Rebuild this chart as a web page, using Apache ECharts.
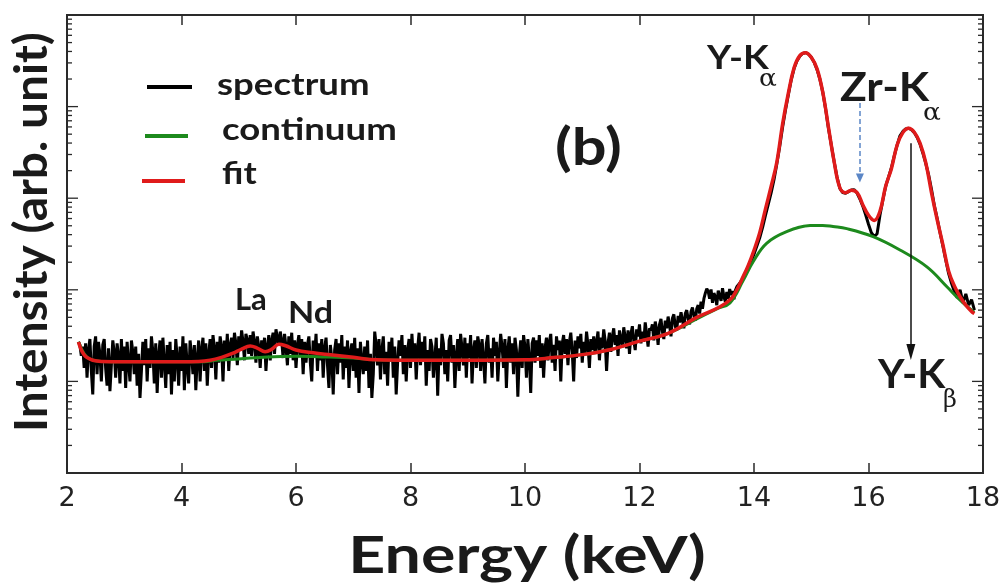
<!DOCTYPE html>
<html>
<head>
<meta charset="utf-8">
<script src="https://cdn.jsdelivr.net/npm/echarts@6/dist/echarts.min.js"></script>
<style>
  html, body { margin: 0; padding: 0; background: #fff; }
  #chart { width: 1005px; height: 586px; }
</style>
</head>
<body>
<div id="chart"></div>
<script>
// ---- X-ray fluorescence spectrum, panel (b) ----
const xTickValues = [2, 4, 6, 8, 10, 12, 14, 16, 18];

// measured spectrum, low-energy part: every 0.025 keV from 2.200 to 13.675 keV
const spectrumLowStart = 2.2;
const spectrumLowStep = 0.025;
const spectrumLow = [
  // 2.200 - 3.175
  27, 25, 19, 24, 14, 26, 11, 22, 29, 13, 7.2, 24, 31, 12, 27, 20, 10, 25, 29, 14,
  9, 23, 7.8, 15, 28, 21, 11, 26, 19, 9.5, 29, 13, 24, 8.5, 27, 16, 10, 28, 21, 12,
  // 3.200 - 4.175
  24, 9, 20, 6.6, 13, 27, 15, 29, 10, 23, 14, 31, 21, 9.5, 26, 7.5, 19, 28, 11, 30,
  16, 8.5, 25, 12, 27, 7.2, 22, 10, 29, 18, 9, 24, 13, 31, 8, 26, 15, 9.5, 28, 20,
  // 4.200 - 5.175
  12, 25, 8, 18, 28, 10, 22, 30, 13, 26, 9, 20, 29, 14, 32, 23, 10.5, 27, 16, 31,
  24, 10, 28, 17, 33, 13, 25, 30, 18, 34, 26, 15, 31, 22, 36, 27, 17, 33, 28, 20,
  // 5.200 - 6.175
  32, 19, 35, 27, 16, 31, 24, 14, 28, 19, 30, 13, 24, 32, 17, 28, 34, 20, 37, 30,
  25, 35, 28, 18, 33, 24, 15, 31, 20, 34, 17, 28, 14, 25, 32, 19, 29, 12, 27, 16,
  // 6.200 - 7.175
  25, 31, 16, 10, 28, 19, 33, 13, 26, 17, 29, 11, 23, 30, 15, 8.5, 25, 18, 7.2, 22,
  29, 12, 26, 16, 32, 10.5, 24, 14, 28, 8.5, 21, 26, 13, 30, 11, 23, 7.5, 27, 17, 12,
  // 7.200 - 8.175
  24, 13, 28, 8.5, 20, 6.6, 12, 35, 25, 15, 29, 10.5, 22, 31, 12, 21, 9, 27, 17, 30,
  11, 24, 7.2, 16, 28, 19, 32, 12, 25, 10, 22, 29, 14, 33, 17, 26, 10.5, 23, 34, 15,
  // 8.200 - 9.175
  27, 17, 31, 9, 22, 13, 29, 24, 11, 18, 30, 7, 23, 15, 33, 26, 12, 22, 10, 28,
  32, 16, 25, 8.5, 19, 29, 13, 33, 23, 15, 30, 11, 26, 18, 32, 9.5, 22, 28, 14, 31,
  // 9.200 - 10.175
  25, 13, 29, 18, 9.5, 26, 32, 16, 23, 11, 30, 19, 27, 10, 20, 33, 24, 14, 29, 8.5,
  22, 31, 16, 26, 12, 30, 22, 6.8, 19, 28, 14, 32, 24, 11, 29, 18, 7.5, 26, 30, 16,
  // 10.200 - 11.175
  28, 19, 32, 14, 26, 11, 23, 30, 17, 27, 33, 16, 25, 13, 31, 22, 28, 10, 26, 32,
  20, 29, 15, 27, 34, 21, 10, 28, 18, 31, 23, 33, 16, 27, 20, 35, 25, 14, 29, 22,
  // 11.200 - 12.175
  31, 20, 27, 35, 17, 30, 23, 37, 28, 13, 26, 34, 21, 31, 38, 25, 32, 19, 36, 29,
  24, 39, 30, 23, 36, 20, 33, 40, 28, 22, 37, 31, 42, 26, 35, 27, 44, 33, 24, 38,
  // 12.200 - 13.175
  36, 42, 28, 45, 37, 25, 42, 48, 35, 29, 46, 38, 51, 41, 31, 49, 54, 40, 36, 52,
  44, 57, 47, 38, 55, 60, 48, 42, 58, 64, 52, 46, 62, 68, 55, 74, 62, 80, 92, 103,
  // 13.200 - 13.675
  96, 80, 101, 72, 92, 84, 68, 98, 86, 76, 104, 84, 74, 95, 80, 102, 88, 97, 79, 99
];

// measured spectrum, peak region: every 0.05 keV from 13.70 to 17.85 keV
const spectrumHighStart = 13.7;
const spectrumHighStep = 0.05;
const spectrumHigh = [
  108, 118, 132, 152, 180, 205, 245, 300, 370, 480,
  650, 860, 1150, 1600, 2400, 3700, 6000, 9200, 13500, 19500,
  26000, 31500, 35500, 38000, 38800, 37500, 34500, 30500, 25500, 20000,
  14500, 9500, 5800, 3800, 2500, 1700, 1280, 1150, 1130, 1180,
  1230, 1240, 1140, 980, 820, 660, 520, 420, 380, 410,
  650, 950, 1350, 1700, 2150, 2900, 3800, 4800, 5350, 5700,
  5800, 5600, 5200, 4600, 3900, 3100, 2400, 1800, 1250, 830,
  600, 420, 300, 210, 150, 118, 96, 82, 100, 72, 90, 68, 78, 60
];

// fitted model (continuum + lines)
const fitEnergy = [2.20, 2.25, 2.30, 2.35, 2.45, 2.6, 3.0, 3.5, 4.0, 4.3, 4.5, 4.7, 4.9, 5.05, 5.2, 5.33, 5.46, 5.58, 5.7, 5.82,
  6.0, 6.3, 6.6, 7.0, 7.4, 8.0, 9.0, 10.0, 10.5, 11.0, 11.5, 12.0, 12.5, 13.0, 13.4, 13.6, 13.7, 13.8, 13.9, 14.0,
  14.1, 14.2, 14.3, 14.4, 14.5, 14.6, 14.7, 14.8, 14.9, 15.0, 15.1, 15.2, 15.3, 15.4, 15.5, 15.6, 15.7, 15.8, 15.9, 16.0,
  16.1, 16.2, 16.3, 16.4, 16.5, 16.6, 16.7, 16.8, 16.9, 17.0, 17.1, 17.2, 17.3, 17.4, 17.5, 17.6, 17.7, 17.8, 17.85];
const fitIntensity = [27, 22, 19.5, 18.2, 17, 16.5, 16.4, 16.4, 16.4, 16.5, 17, 18.3, 20.3, 22.5, 24.3, 23, 21.1, 22.5, 25.5, 24.5,
  22, 20.5, 19.5, 18.3, 17.2, 17, 17, 17.2, 18.2, 19.6, 22.3, 27.5, 33.5, 50, 65, 80, 100, 135, 185, 270,
  420, 760, 1350, 2500, 6500, 14000, 26500, 36000, 38800, 34500, 26000, 14500, 6000, 2500, 1300, 1150, 1220, 1150, 850, 650,
  570, 720, 1350, 2100, 3800, 5200, 5800, 5250, 4000, 2450, 1150, 580, 310, 160, 110, 84, 68, 58, 55];

// continuum (bremsstrahlung background)
const continuumEnergy = [2.20, 2.30, 2.40, 2.6, 3.0, 3.5, 4.0, 4.4, 4.6, 5.0, 5.5, 6.0, 6.5, 7.0, 7.5, 8.0, 9.0, 10.0, 10.5, 11.0,
  11.5, 12.0, 12.5, 13.0, 13.35, 13.58, 13.81, 13.99, 14.22, 14.57, 14.98, 15.2, 15.38, 15.62, 16.08, 16.55, 17.02, 17.37, 17.6, 17.8, 17.85];
const continuumIntensity = [27, 20, 17.5, 16.5, 16.4, 16.4, 16.4, 16.4, 17, 17.6, 18.5, 18.8, 18.5, 18, 17.1, 17, 17, 17.2, 18.2, 19.6,
  22.3, 27.5, 33.5, 48, 62, 72, 126, 205, 322, 431, 502, 505, 490, 465, 380, 272, 178, 108, 77, 60, 57];

// peak annotation arrows: energy (keV), start and end intensity
const zrArrow = { energy: 15.85, from: 10960, to: 1660 };
const ykbArrow = { energy: 16.74, from: 3990, to: 20.9 };

const spectrumPoints = spectrumLow.map((v, i) => [+(spectrumLowStart + i * spectrumLowStep).toFixed(3), v])
  .concat(spectrumHigh.map((v, i) => [+(spectrumHighStart + i * spectrumHighStep).toFixed(3), v]));
const fitPoints = fitEnergy.map((e, i) => [e, fitIntensity[i]]);
const continuumPoints = continuumEnergy.map((e, i) => [e, continuumIntensity[i]]);

const INK = '#1a1a1a';
const RED = '#e01b1b';
const GREEN = '#1d8a1d';
const BOLD = 'Lato, "Open Sans", sans-serif';

const chart = echarts.init(document.getElementById('chart'), null, { renderer: 'canvas' });

const option = {
  animation: false,
  backgroundColor: '#ffffff',
  grid: { left: 67, top: 15, right: 22, bottom: 113, show: true, borderColor: '#2a2a2a', borderWidth: 2, backgroundColor: 'transparent' },
  xAxis: [
    {
      type: 'value', min: 2, max: 18, interval: 2, position: 'bottom',
      axisLine: { show: false },
      axisTick: { show: true, inside: true, length: 10, lineStyle: { color: '#2a2a2a', width: 1.5 } },
      splitLine: { show: false },
      axisLabel: { show: true, margin: 12, color: '#222', fontFamily: '"DejaVu Sans", sans-serif', fontSize: 27,
        customValues: xTickValues, formatter: v => String(v) }
    },
    {
      type: 'value', min: 2, max: 18, interval: 2, position: 'top',
      axisLine: { show: false },
      axisTick: { show: true, inside: true, length: 10, lineStyle: { color: '#2a2a2a', width: 1.5 } },
      axisLabel: { show: false }, splitLine: { show: false }
    }
  ],
  yAxis: [
    {
      type: 'log', logBase: 10, min: 1, max: 100000, position: 'left',
      axisLine: { show: false }, axisTick: { show: false }, axisLabel: { show: false }, splitLine: { show: false }
    }
  ],
  series: [
    {
      name: 'spectrum', type: 'line', data: spectrumPoints, showSymbol: false, symbol: 'none',
      lineStyle: { color: '#000', width: 3 }, z: 2, silent: true
    },
    {
      name: 'continuum', type: 'line', data: continuumPoints, showSymbol: false, symbol: 'none', smooth: 0.4,
      lineStyle: { color: GREEN, width: 3 }, z: 3, silent: true
    },
    {
      name: 'fit', type: 'line', data: fitPoints, showSymbol: false, symbol: 'none', smooth: 0.4,
      lineStyle: { color: RED, width: 3.5 }, z: 4, silent: true,
      markLine: {
        silent: true, animation: false, label: { show: false },
        symbol: ['none', 'triangle'],
        data: [
          [
            { coord: [zrArrow.energy, zrArrow.from], symbol: 'none',
              lineStyle: { color: '#5b86c6', width: 1.5, type: [5, 3] } },
            { coord: [zrArrow.energy, zrArrow.to], symbol: 'triangle', symbolSize: [8, 9],
              itemStyle: { color: '#5b86c6' } }
          ],
          [
            { coord: [ykbArrow.energy, ykbArrow.from], symbol: 'none',
              lineStyle: { color: '#111', width: 1.5, type: 'solid' } },
            { coord: [ykbArrow.energy, ykbArrow.to], symbol: 'triangle', symbolSize: [9, 16],
              itemStyle: { color: '#111' } }
          ]
        ]
      }
    }
  ]
};

chart.setOption(option);

// text placed at (x, y), left edge / vertical middle, optionally stretched horizontally
function txt(text, x, y, font, sx, extra) {
  return Object.assign({
    type: 'text', silent: true, z: 20, x: x, y: y, scaleX: sx || 1, scaleY: 1,
    style: { text: text, x: 0, y: 0, font: font, fill: INK,
      textAlign: 'left', align: 'left', textVerticalAlign: 'middle', verticalAlign: 'middle' }
  }, extra || {});
}
function seg(x1, y1, x2, y2, color, w) {
  return { type: 'line', silent: true, z: 20, shape: { x1, y1, x2, y2 }, style: { stroke: color, lineWidth: w } };
}
function centered(el) {
  el.style.textAlign = 'center';
  el.style.align = 'center';
  return el;
}

// axis titles
const titleEls = [
  centered(txt('Energy (keV)', 527, 556, 'bold 52px ' + BOLD, 1.24)),
  centered(txt('Intensity (arb. unit)', 32, 232, 'bold 46px ' + BOLD, 1.04, { rotation: Math.PI / 2 }))
];

// legend
const legendEls = [
  seg(147, 87, 192, 87, '#000', 4),
  txt('spectrum', 217, 85, 'bold 31px ' + BOLD, 1.18),
  seg(145, 136, 188, 136, GREEN, 4),
  txt('continuum', 222, 130, 'bold 31px ' + BOLD, 1.18),
  seg(142, 181, 185, 181, RED, 4),
  txt('fit', 222, 174, 'bold 31px ' + BOLD, 1.15)
];

// peak labels
const labelEls = [
  txt('(b)', 555, 148, 'bold 52px ' + BOLD, 1.18),
  txt('Y-K', 707, 58, 'bold 33px ' + BOLD, 1.14),
  txt('\u03b1', 759, 80, '24px "DejaVu Serif", serif', 1.1),
  txt('Zr-K', 840, 88, 'bold 41px ' + BOLD, 1.08),
  txt('\u03b1', 923, 114, '24px "DejaVu Serif", serif', 1.1),
  txt('Y-K', 878, 375, 'bold 41px ' + BOLD, 1.0),
  txt('\u03b2', 943, 401, '24px "DejaVu Serif", serif', 1.0),
  txt('La', 235, 300, 'bold 31px ' + BOLD, 1.0),
  txt('Nd', 288, 313, 'bold 31px ' + BOLD, 1.1)
];

// decade and sub-decade ticks on both vertical edges of the frame
function logTickEls() {
  const els = [];
  const xL = chart.convertToPixel({ xAxisIndex: 0 }, 2);
  const xR = chart.convertToPixel({ xAxisIndex: 0 }, 18);
  for (let k = 0; k < 5; k++) {
    for (let m = 1; m < 10; m++) {
      if (k === 0 && m === 1) continue;
      const v = m * Math.pow(10, k);
      const y = chart.convertToPixel({ yAxisIndex: 0 }, v);
      const len = m === 1 ? 11 : 5;
      els.push(seg(xL, y, xL + len, y, '#2a2a2a', 1.3));
      els.push(seg(xR - len, y, xR, y, '#2a2a2a', 1.3));
    }
  }
  return els;
}

chart.setOption({ graphic: titleEls.concat(legendEls, labelEls, logTickEls()) });
</script>
</body>
</html>
